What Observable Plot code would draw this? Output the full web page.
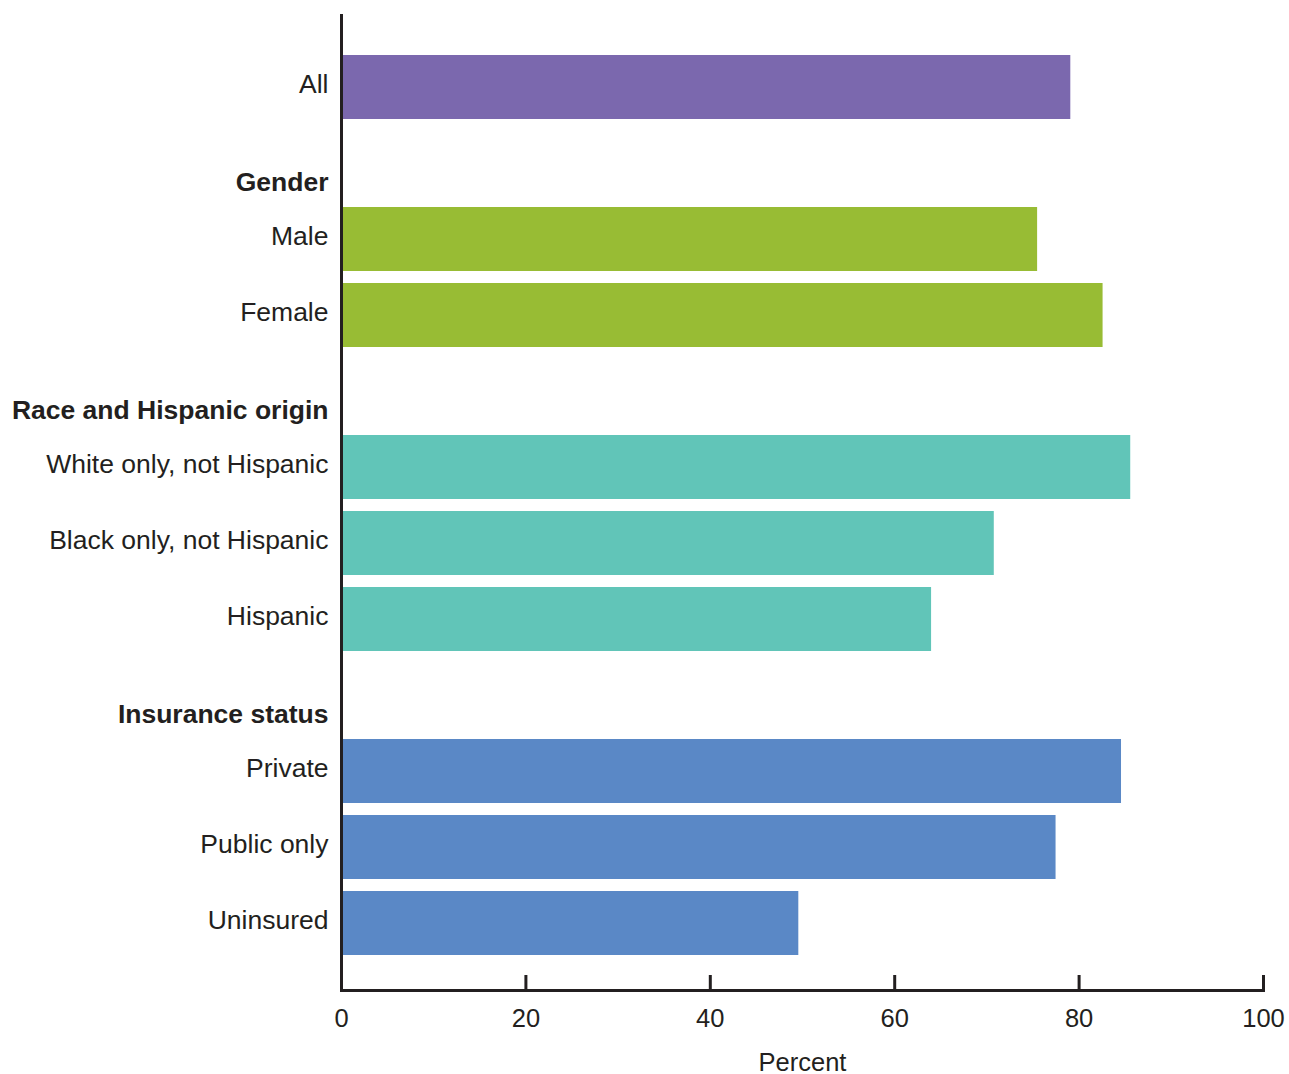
<!DOCTYPE html>
<html><head><meta charset="utf-8">
<script src="https://cdn.jsdelivr.net/npm/d3@7"></script>
<script src="https://cdn.jsdelivr.net/npm/@observablehq/plot@0.6"></script>
<style>
body{margin:0;background:#fff;}
#chart svg{display:block;}
</style>
</head><body><div id="chart"></div>
<script>
const categories = ["All","Gender","Male","Female","Race and Hispanic origin","White only, not Hispanic","Black only, not Hispanic","Hispanic","Insurance status","Private","Public only","Uninsured"];
const headers = ["Gender","Race and Hispanic origin","Insurance status"];
const groups = ["All",null,"Gender","Gender",null,"Race","Race","Race",null,"Insurance","Insurance","Insurance"];
const values = [79.1,null,75.5,82.6,null,85.6,70.8,64.0,null,84.6,77.5,49.6];
const groupNames = ["All","Gender","Race","Insurance"];
const groupColors = ["#7b68ae","#98bc34","#61c5b8","#5a88c6"];
const xTicks = [0,20,40,60,80,100];

const rows = categories.map((c,i)=>({category:c, group:groups[i], value:values[i], header:headers.includes(c)}));
const bars = rows.filter(d=>d.value!=null);
const items = rows.filter(d=>!d.header);
const heads = rows.filter(d=>d.header);
const ink = "#231f20";

const chart = Plot.plot({
  width:1289, height:1074,
  marginLeft:341, marginRight:26, marginTop:14, marginBottom:84,
  insetTop:34, insetBottom:29,
  style:{fontFamily:"'Liberation Sans', Arial, Helvetica, sans-serif", fontSize:"26px", color:ink, background:"#fff"},
  x:{domain:[0,100]},
  y:{domain:categories, paddingInner:0.16, paddingOuter:0.08, axis:null},
  color:{domain:groupNames, range:groupColors},
  marks:[
    Plot.barX(bars,{x:"value", y:"category", fill:"group"}),
    Plot.text(items,{x:0, y:"category", text:"category", textAnchor:"end", dx:-13, dy:-3, fill:ink, fontSize:26.5}),
    Plot.text(heads,{x:0, y:"category", text:"category", textAnchor:"end", dx:-13, dy:19, fill:ink, fontSize:26.5, fontWeight:"bold"}),
    Plot.ruleX([0],{stroke:ink, strokeWidth:3}),
    Plot.frame({anchor:"bottom", stroke:ink, strokeWidth:3}),
    Plot.axisX({ticks:xTicks, tickSize:-15, tickPadding:33, strokeWidth:3, stroke:ink, fill:ink, fontSize:25.5,
      label:"Percent", labelAnchor:"center", labelArrow:"none", labelOffset:80})
  ]
});
document.getElementById("chart").append(chart);
</script>
</body></html>
